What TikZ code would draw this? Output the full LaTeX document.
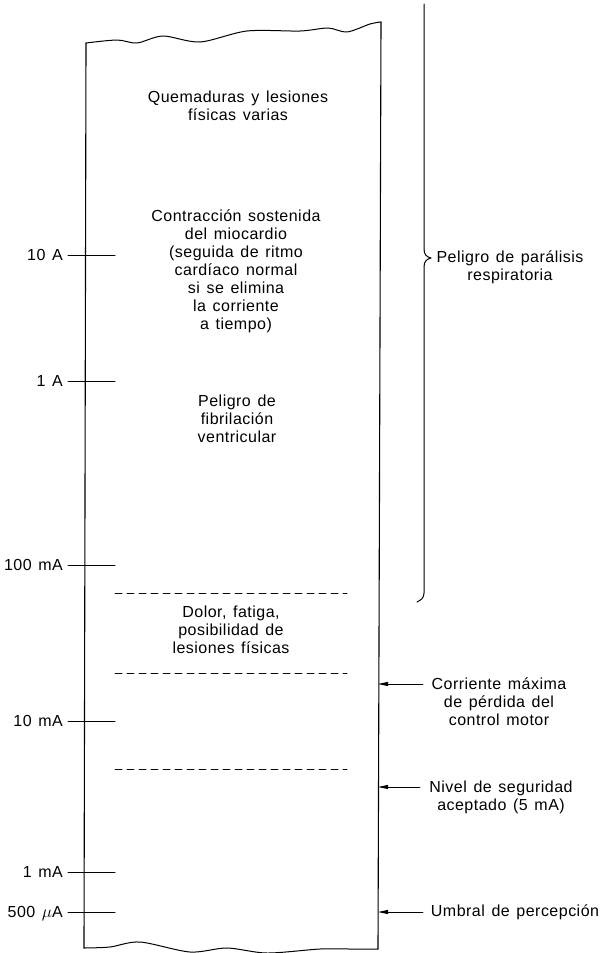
\documentclass[tikz,border=0pt]{standalone}
\usepackage{amsmath,amssymb}
\usepackage{fontspec}
\setsansfont{Liberation Sans}[LetterSpace=3,WordSpace=1.35]
\usepackage{tikz}
\usetikzlibrary{arrows}
\usetikzlibrary{arrows.meta,positioning,calc}
\tikzset{
  zona/.style={font=\sffamily\fontsize{16}{18}\selectfont,align=center,inner sep=0pt},
  escala/.style={font=\sffamily\fontsize{16}{18}\selectfont,text height=11pt,text depth=0pt,inner sep=0pt},
  corte/.style={dash pattern=on 7pt off 5pt,line width=0.9pt},
}
\begin{document}
\begin{tikzpicture}[line cap=round,line join=round,>={Triangle[length=10pt,width=4pt]},x=1pt,y=-1pt]
                \useasboundingbox (0,0) rectangle (605,953);
                % columna
                \coordinate (supI) at (86,43);
                \coordinate (supD) at (381,22);
                \coordinate (infI) at (84,948);
                \coordinate (infD) at (378,949);
                \draw [line width=1.1pt] (supI)-- (infI);
                \draw [line width=1.1pt] (supD)-- (infD);
                \draw [line width=1pt] plot[smooth,tension=0.5] coordinates {(supI) (117,40) (137,43) (163,36) (200,42) (247,31) (300,31) (328,28) (347,32) (370,24) (supD)};
                \draw [line width=1pt] plot[smooth,tension=0.5] coordinates {(infI) (110,947) (140,942) (190,952) (227,948) (267,953) (320,949) (350,949) (infD)};
                % escala de corriente
                \foreach \y/\t/\n in {255/10 A/diezA,381/1 A/unA,565/100 mA/cienmA,721/10 mA/diezmA,872/1 mA/unmA,912/500 $\mu$A/quinuA} {
                    \coordinate (t\n) at (68,\y);
                    \draw [line width=1pt] (t\n)-- ++(47,0);
                    \node[escala,left=5pt of t\n] (\n) {\t};
                }
                % limites de zona
                \draw [corte] (115,593)-- (347,593);
                \draw [corte] (115,673)-- (347,673);
                \draw [corte] (115,769)-- (347,769);
                % efectos
                \node[zona] (quem) at (238,106) {Quemaduras y lesiones\\f\'isicas varias};
                \node[zona] (contr) at (236,271) {Contracci\'on sostenida\\del miocardio\\(seguida de ritmo\\card\'iaco normal\\si se elimina\\la corriente\\a tiempo)};
                \node[zona] (fibr) at (237,419) {Peligro de\\fibrilaci\'on\\ventricular};
                \node[zona] (dolor) at (231,630) {Dolor, fatiga,\\posibilidad de\\lesiones f\'isicas};
                % llave
                \draw [line width=1pt] (424,4)-- (424,249) .. controls (424,255) and (427,257) .. (431,258) .. controls (427,259) and (424,261) .. (424,267)-- (424,593) .. controls (424,598) and (421,600) .. (417,602);
                \node[zona] (paral) at (510,267) {Peligro de par\'alisis\\respiratoria};
                % umbrales
                \node[zona] (corr) at (499,702) {Corriente m\'axima\\de p\'erdida del\\control motor};
                \node[zona] (nivel) at (501,797) {Nivel de seguridad\\aceptado (5 mA)};
                \node[zona] (umbr) at (515,912) {Umbral de percepci\'on};
                \coordinate (fCorr) at (423,684);
                \coordinate (fNivel) at (420,787);
                \coordinate (fUmbr) at (423,912);
                \draw [->,line width=0.9pt] (fCorr)-- (fCorr -| infD);
                \draw [->,line width=0.9pt] (fNivel)-- (fNivel -| infD);
                \draw [->,line width=0.9pt] (fUmbr)-- (fUmbr -| infD);
            \end{tikzpicture}
\end{document}
